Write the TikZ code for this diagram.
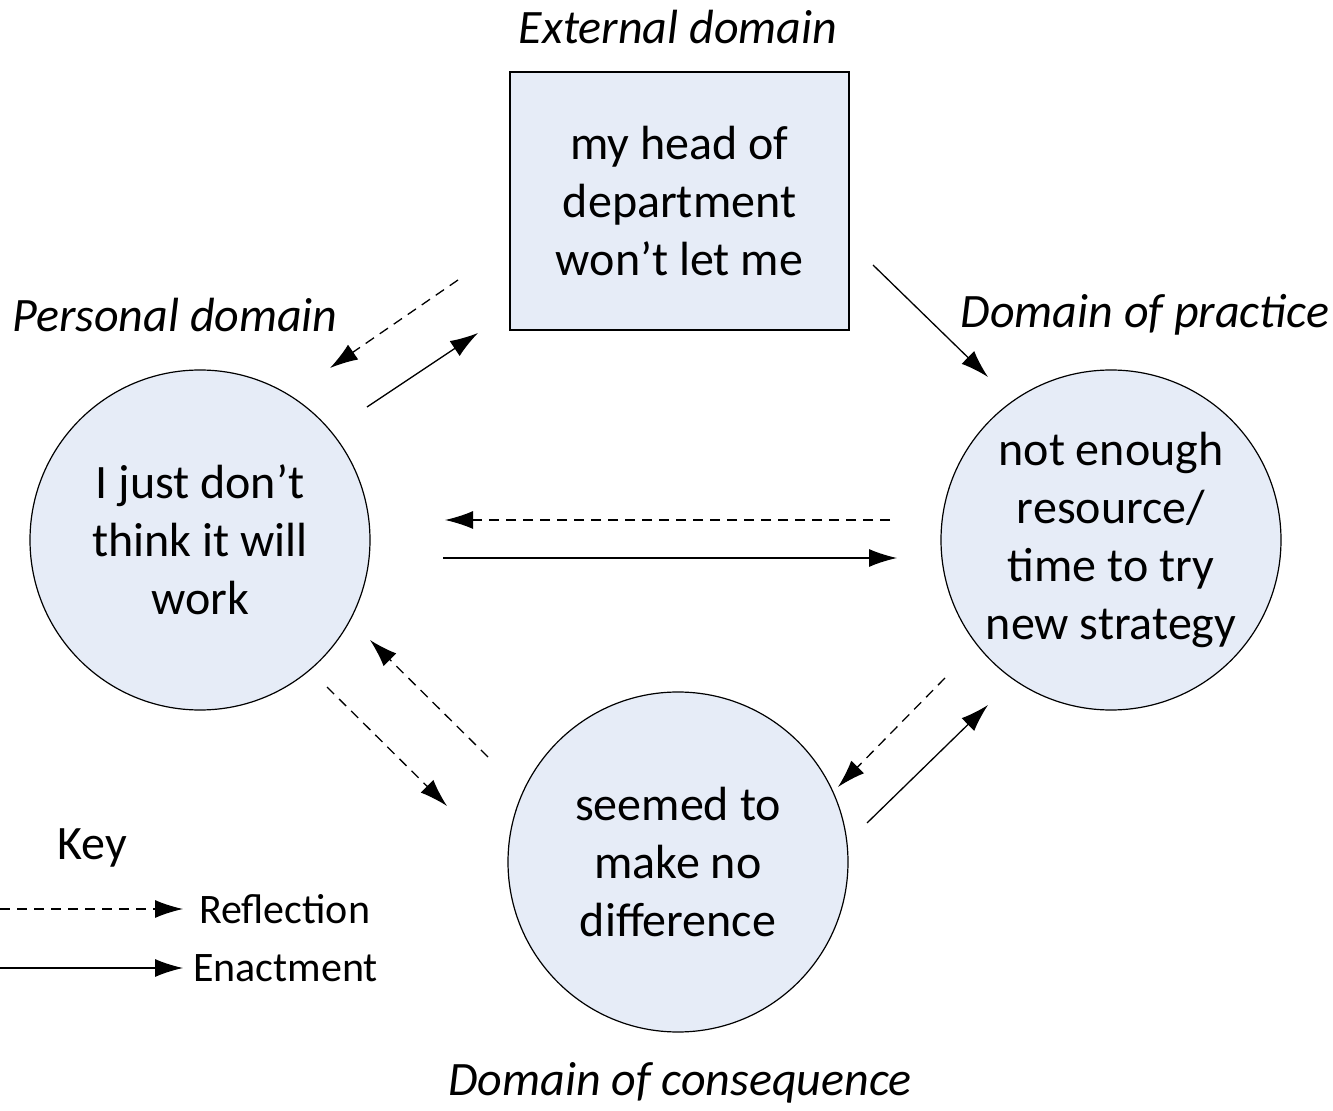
\documentclass[tikz,border=0pt]{standalone}
\usepackage{fontspec}
\setmainfont{Carlito}
\usetikzlibrary{arrows.meta,positioning,calc}
\definecolor{domfill}{RGB}{230,236,247}

\begin{document}
\begin{tikzpicture}[x=0.5pt,y=-0.5pt,>={Latex[length=14pt,width=9pt]},
  every node/.style={font=\fontsize{24}{29}\selectfont},
  dom/.style={circle,draw,fill=domfill,minimum size=170pt,inner sep=0pt,align=center,line width=0.6pt},
  domlabel/.style={font=\fontsize{24}{29}\selectfont\itshape},
  refl/.style={->,line width=0.65pt,dash pattern=on 5pt off 3.5pt},
  enact/.style={->,line width=0.65pt},
  keytext/.style={anchor=west,font=\fontsize{21}{25}\selectfont}]
  \useasboundingbox (0,0) rectangle (1333,1111);
  % domains
  \node[draw,fill=domfill,minimum width=169.5pt,minimum height=129pt,align=center,line width=0.6pt] (ext) at (679.5,201) {my head of\\department\\won’t let me};
  \node[dom] (pers) at (200,540) {I just don’t\\think it will\\work};
  \node[dom] (prac) at (1111,540) {not enough\\resource/\\time to try\\new strategy};
  \node[dom] (cons) at (678,862) {seemed to\\make no\\difference};
  \node[domlabel] (extlab) at (678,27) {External domain};
  \node[domlabel] (perslab) at (175,315) {Personal domain};
  \node[domlabel] (praclab) at (1145,315) {Domain of practice};
  \node[domlabel] (conslab) at (680,1083) {Domain of consequence};
  % arrow ends
  \coordinate (a1) at (458,280); \coordinate (a2) at (330,368);
  \coordinate (b1) at (367,407); \coordinate (b2) at (478,333);
  \coordinate (c1) at (873,265); \coordinate (c2) at (988,377);
  \coordinate (d1) at (890,520); \coordinate (d2) at (445,520);
  \coordinate (e1) at (443,558); \coordinate (e2) at (897,558);
  \coordinate (f1) at (488,757); \coordinate (f2) at (370,640);
  \coordinate (g1) at (327,687); \coordinate (g2) at (447,806);
  \coordinate (h1) at (945,678); \coordinate (h2) at (838,787);
  \coordinate (i1) at (867,823); \coordinate (i2) at (988,705);
  \draw[refl] (a1) -- (a2);
  \draw[enact] (b1) -- (b2);
  \draw[enact] (c1) -- (c2);
  \draw[refl] (d1) -- (d2);
  \draw[enact] (e1) -- (e2);
  \draw[refl] (f1) -- (f2);
  \draw[refl] (g1) -- (g2);
  \draw[refl] (h1) -- (h2);
  \draw[enact] (i1) -- (i2);
  % key
  \node (key) at (92,848) {Key};
  \coordinate (k1) at (0,909); \coordinate (k2) at (183,909);
  \coordinate (k3) at (0,968); \coordinate (k4) at (183,968);
  \draw[refl] (k1) -- (k2);
  \draw[enact] (k3) -- (k4);
  \node[keytext] (reflab) at (192,909) {Reflection};
  \node[keytext] (enlab) at (186,968) {Enactment};
\end{tikzpicture}
\end{document}
